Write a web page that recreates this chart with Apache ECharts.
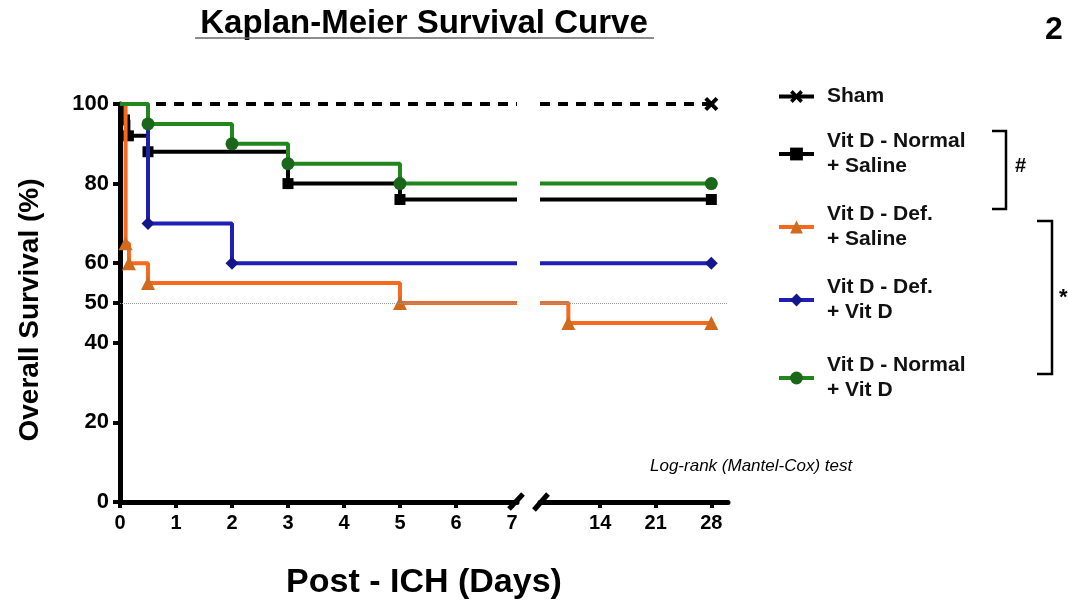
<!DOCTYPE html>
<html>
<head>
<meta charset="utf-8">
<script src="https://cdn.jsdelivr.net/npm/echarts@6/dist/echarts.min.js"></script>
<style>
  html, body { margin: 0; padding: 0; background: #fff; }
  #chart { width: 1068px; height: 604px; }
</style>
</head>
<body>
<div id="chart"></div>
<script>
// survival data (days, % surviving)
const shamDays = [0, 28];
const shamSurv = [100, 100];
const normSalineDays = [0, 0.08, 0.15, 0.5, 3, 5, 28];
const normSalineSurv = [100, 96, 92, 88, 80, 76, 76];
const defSalineDays = [0, 0.1, 0.16, 0.5, 5, 10, 28];
const defSalineSurv = [100, 65, 60, 55, 50, 45, 45];
const defVitDDays = [0, 0.5, 2, 28];
const defVitDSurv = [100, 70, 60, 60];
const normVitDDays = [0, 0.5, 2, 3, 5, 28];
const normVitDSurv = [100, 95, 90, 85, 80, 80];

const groupNames = ['Sham', 'Vit D - Normal\n+ Saline', 'Vit D - Def.\n+ Saline', 'Vit D - Def.\n+ Vit D', 'Vit D - Normal\n+ Vit D'];
const yTicks = [0, 20, 40, 50, 60, 80, 100];
const xTicksLeft = [0, 1, 2, 3, 4, 5, 6, 7];
const xTicksRight = [14, 21, 28];

const leftMax = 7.09;   // end of first x segment
const rightMin = 6.43;  // start of second x segment
const legendTops = [79, 124, 197, 270, 348];

const xPath = 'path://M2,0 L5,3 L8,0 L10,2 L7,5 L10,8 L8,10 L5,7 L2,10 L0,8 L3,5 L0,2 Z';

const groups = [
  { days: shamDays, surv: shamSurv, color: '#000', mark: '#000', symbol: xPath, size: 14, dashed: true },
  { days: normSalineDays, surv: normSalineSurv, color: '#000', mark: '#000', symbol: 'rect', size: 11 },
  { days: defSalineDays, surv: defSalineSurv, color: '#f7691e', mark: '#cf6a1f', symbol: 'triangle', size: 14 },
  { days: defVitDDays, surv: defVitDSurv, color: '#1f1fb4', mark: '#16168c', symbol: 'diamond', size: 13 },
  { days: normVitDDays, surv: normVitDSurv, color: '#22861f', mark: '#1a661a', symbol: 'circle', size: 13 }
];

function valueAt(g, t) {
  let v = g.surv[0];
  g.days.forEach((d, i) => { if (d <= t) v = g.surv[i]; });
  return v;
}

function leftPart(g) {
  const out = [];
  g.days.forEach((d, i) => {
    if (d <= 7) out.push(i === 0 ? { value: [d, g.surv[i]], symbol: 'none' } : [d, g.surv[i]]);
  });
  out.push({ value: [leftMax, valueAt(g, leftMax)], symbol: 'none' });
  return out;
}

function rightPart(g) {
  const out = [{ value: [rightMin, valueAt(g, rightMin)], symbol: 'none' }];
  g.days.forEach((d, i) => { if (d > 7) out.push([d, g.surv[i]]); });
  return out;
}

const refLine = {
  silent: true,
  symbol: 'none',
  label: { show: false },
  lineStyle: { color: '#999', type: 'dotted', width: 1 },
  data: [{ yAxis: 50 }]
};

const series = [];
groups.forEach((g, k) => {
  [0, 1].forEach(seg => {
    const s = {
      name: groupNames[k],
      type: 'line',
      step: 'end',
      xAxisIndex: seg,
      yAxisIndex: seg,
      data: seg === 0 ? leftPart(g) : rightPart(g),
      symbol: g.symbol,
      symbolSize: g.size,
      showAllSymbol: true,
      lineStyle: { color: g.color, width: 4, type: g.dashed ? [10, 8] : 'solid' },
      itemStyle: { color: g.mark },
      z: 2 + k,
      animation: false
    };
    if (k === 2) s.markLine = refLine;
    series.push(s);
  });
});

// one legend box per group so each can sit at its own height
const legends = groupNames.map((n, i) => ({
  orient: 'vertical',
  left: 772,
  top: legendTops[i],
  itemWidth: 35,
  itemHeight: 16,
  selectedMode: false,
  data: [{ name: n, lineStyle: { type: 'solid', width: 4 } }],
  textStyle: {
    fontFamily: 'Liberation Sans', fontWeight: 'bold', fontSize: 21,
    lineHeight: 25, color: '#111', padding: [0, 0, 0, 8]
  }
}));

const axisFont = { fontFamily: 'Liberation Sans', fontWeight: 'bold', color: '#000' };

const chart = echarts.init(document.getElementById('chart'));
chart.setOption({
  animation: false,
  grid: [
    { left: 120, top: 104, width: 397, bottom: 102 },
    { left: 540, top: 104, right: 340, bottom: 102 }
  ],
  xAxis: [
    {
      gridIndex: 0, type: 'value', min: 0, max: leftMax,
      splitLine: { show: false },
      axisLine: { lineStyle: { color: '#000', width: 5 } },
      axisTick: { customValues: xTicksLeft, length: 6, lineStyle: { color: '#000', width: 4 } },
      axisLabel: Object.assign({ customValues: xTicksLeft, fontSize: 20, margin: 11 }, axisFont)
    },
    {
      gridIndex: 1, type: 'value', min: rightMin, max: 30.1,
      splitLine: { show: false },
      axisLine: { lineStyle: { color: '#000', width: 5 } },
      axisTick: { customValues: xTicksRight, length: 6, lineStyle: { color: '#000', width: 4 } },
      axisLabel: Object.assign({ customValues: xTicksRight, fontSize: 20, margin: 11 }, axisFont)
    }
  ],
  yAxis: [
    {
      gridIndex: 0, type: 'value', min: 0, max: 100, interval: 10,
      splitLine: { show: false },
      axisLine: { show: true, lineStyle: { color: '#000', width: 5 } },
      axisTick: { show: true, customValues: yTicks, length: 7, lineStyle: { color: '#000', width: 4 } },
      axisLabel: Object.assign({ customValues: yTicks, fontSize: 22, margin: 11 }, axisFont)
    },
    {
      gridIndex: 1, type: 'value', min: 0, max: 100, show: false
    }
  ],
  legend: legends,
  graphic: [
    { type: 'text', x: 424, y: 24, style: { text: 'Kaplan-Meier Survival Curve', font: 'bold 33px "Liberation Sans"', fill: '#000', align: 'center', verticalAlign: 'middle' } },
    { type: 'line', shape: { x1: 195, y1: 38, x2: 654, y2: 38 }, style: { stroke: '#666', lineWidth: 1.5 } },
    { type: 'text', x: 1045, y: 14, style: { text: '2', font: 'bold 32px "Liberation Sans"', fill: '#000' } },
    { type: 'text', x: 30, y: 310, rotation: Math.PI / 2, style: { text: 'Overall Survival (%)', font: 'bold 28px "Liberation Sans"', fill: '#000', align: 'center', verticalAlign: 'middle' } },
    { type: 'text', x: 424, y: 583, style: { text: 'Post - ICH (Days)', font: 'bold 34px "Liberation Sans"', fill: '#000', align: 'center', verticalAlign: 'middle' } },
    { type: 'text', x: 650, y: 458, style: { text: 'Log-rank (Mantel-Cox) test', font: 'italic 17px "Liberation Sans"', fill: '#000' } },
    // axis break marks
    { type: 'line', shape: { x1: 509, y1: 509, x2: 523, y2: 494 }, style: { stroke: '#000', lineWidth: 5 } },
    { type: 'line', shape: { x1: 534, y1: 510, x2: 548, y2: 494 }, style: { stroke: '#000', lineWidth: 5 } },
    // significance brackets
    { type: 'polyline', shape: { points: [[992, 131], [1006, 131], [1006, 209], [992, 209]] }, style: { stroke: '#000', lineWidth: 2.5, fill: null } },
    { type: 'text', x: 1015, y: 156, style: { text: '#', font: 'bold 20px "Liberation Sans"', fill: '#000' } },
    { type: 'polyline', shape: { points: [[1037, 221], [1052, 221], [1052, 374], [1037, 374]] }, style: { stroke: '#000', lineWidth: 2.5, fill: null } },
    { type: 'text', x: 1059, y: 287, style: { text: '*', font: 'bold 22px "Liberation Sans"', fill: '#000' } }
  ],
  series: series
});
</script>
</body>
</html>
